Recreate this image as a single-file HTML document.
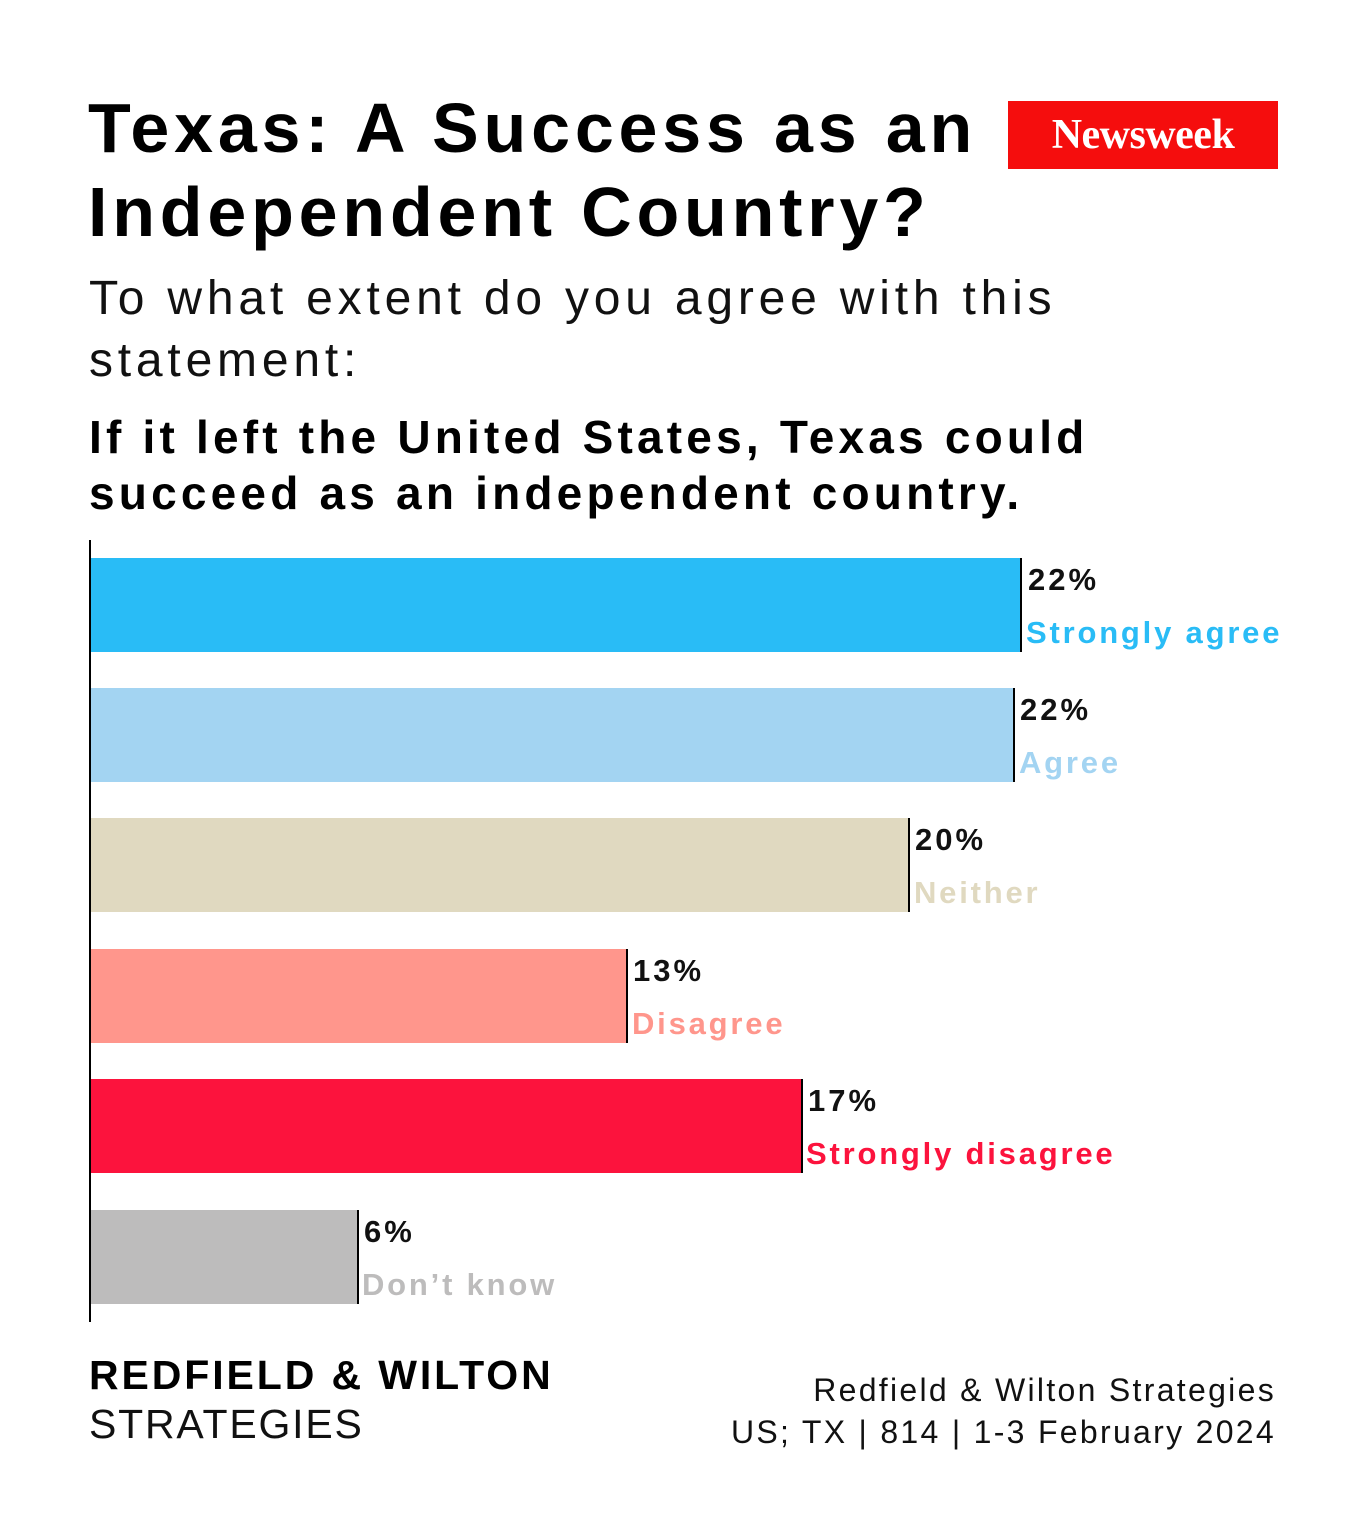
<!DOCTYPE html>
<html><head><meta charset="utf-8"><style>
body{margin:0;background:#fff;width:1365px;height:1536px;position:relative;font-family:"Liberation Sans",sans-serif;overflow:hidden}
.a{position:absolute;white-space:nowrap}
.t{font-weight:bold;font-size:70px;color:#000;left:88px;letter-spacing:4.8px}
.bar{position:absolute;left:91px;height:94px;border-right:2px solid #000}
.p{font-weight:bold;font-size:31px;color:#111;letter-spacing:3px}
.c{font-weight:bold;font-size:31px;letter-spacing:2.8px}
</style></head><body>
<div class="a t" style="top:88px">Texas: A Success as an</div>
<div class="a t" style="top:172px">Independent Country?</div>
<div class="a" style="left:1008px;top:101px;width:270px;height:68px;background:#f50d0d;color:#fff;font-family:'Liberation Serif',serif;font-weight:bold;font-size:42px;text-align:center;line-height:68px;letter-spacing:-0.5px">Newsweek</div>
<div class="a" style="left:89px;top:271px;font-size:48px;color:#111;letter-spacing:4.8px">To what extent do you agree with this</div>
<div class="a" style="left:89px;top:333px;font-size:48px;color:#111;letter-spacing:4.8px">statement:</div>
<div class="a" style="left:89px;top:410px;font-size:46px;font-weight:bold;color:#000;letter-spacing:4.2px">If it left the United States, Texas could</div>
<div class="a" style="left:89px;top:466px;font-size:46px;font-weight:bold;color:#000;letter-spacing:4.2px">succeed as an independent country.</div>
<div class="a" style="left:89px;top:540px;width:2px;height:782px;background:#000"></div>

<div class="bar" style="top:558px;width:929px;background:#29bcf6"></div>
<div class="a p" style="left:1028px;top:562px">22%</div>
<div class="a c" style="left:1026px;top:615px;color:#29bcf6">Strongly agree</div>

<div class="bar" style="top:688px;width:922px;background:#a3d4f2"></div>
<div class="a p" style="left:1020px;top:692px">22%</div>
<div class="a c" style="left:1019px;top:745px;color:#a3d4f2">Agree</div>

<div class="bar" style="top:818px;width:817px;background:#e0d9c0"></div>
<div class="a p" style="left:915px;top:822px">20%</div>
<div class="a c" style="left:914px;top:875px;color:#e0d9c0">Neither</div>

<div class="bar" style="top:949px;width:535px;background:#ff968c"></div>
<div class="a p" style="left:633px;top:953px">13%</div>
<div class="a c" style="left:632px;top:1006px;color:#ff968c">Disagree</div>

<div class="bar" style="top:1079px;width:710px;background:#fc133d"></div>
<div class="a p" style="left:808px;top:1083px">17%</div>
<div class="a c" style="left:806px;top:1136px;color:#fc133d">Strongly disagree</div>

<div class="bar" style="top:1210px;width:266px;background:#bdbcbc"></div>
<div class="a p" style="left:364px;top:1214px">6%</div>
<div class="a c" style="left:362px;top:1267px;color:#bdbcbc">Don’t know</div>

<div class="a" style="left:89px;top:1352px;font-size:41px;font-weight:bold;color:#000;letter-spacing:2.9px">REDFIELD &amp; WILTON</div>
<div class="a" style="left:89px;top:1401px;font-size:41px;color:#111;letter-spacing:1.8px">STRATEGIES</div>
<div class="a" style="right:89px;top:1369px;font-size:32px;color:#111;text-align:right;line-height:42px;letter-spacing:2.3px">Redfield &amp; Wilton Strategies<br>US; TX | 814 | 1-3 February 2024</div>
</body></html>
